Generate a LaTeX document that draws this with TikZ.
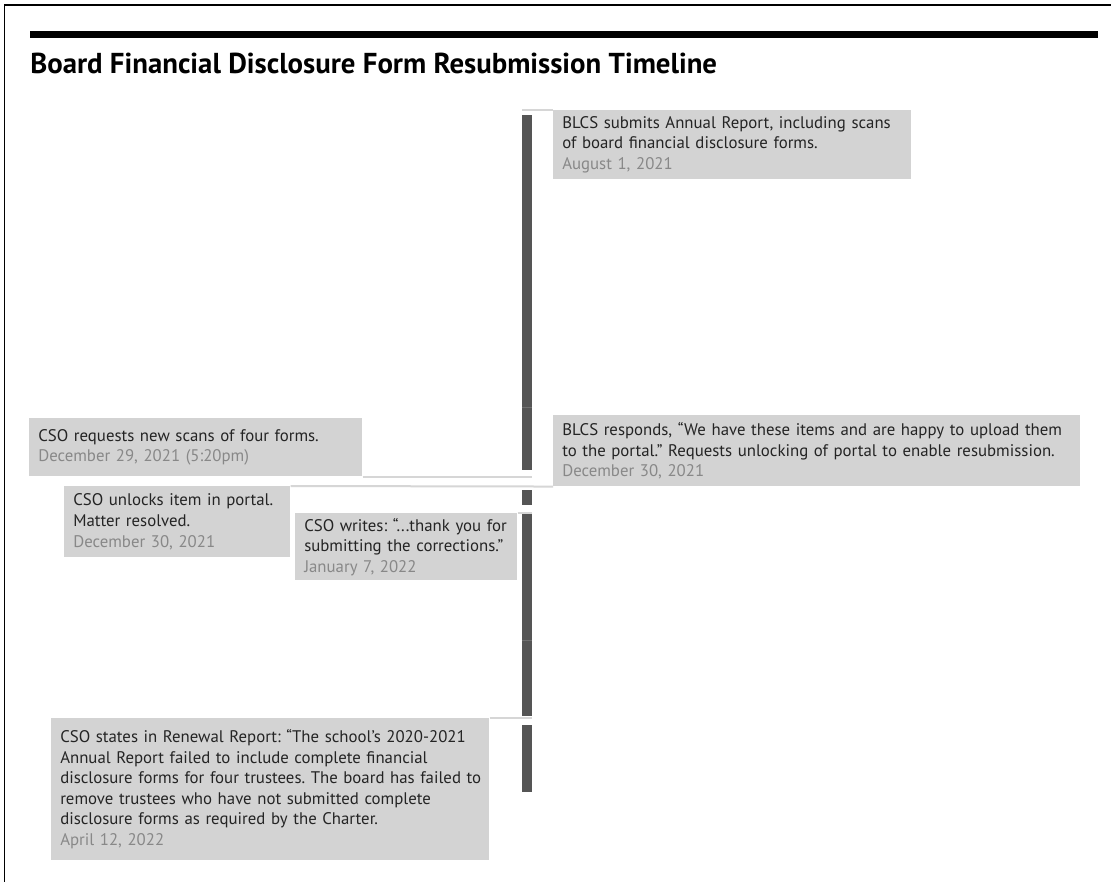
\documentclass[tikz,border=0pt]{standalone}
\usepackage{fontspec}
\setmainfont{PT Sans}
\begin{document}
\frenchspacing
\begin{tikzpicture}[x=0.75pt,y=-0.75pt]
% palette
\definecolor{boxfill}{RGB}{211,211,211}
\definecolor{bodytext}{RGB}{36,36,36}
\definecolor{datetext}{RGB}{136,136,136}
\definecolor{barcol}{RGB}{85,85,85}
\definecolor{seamcol}{RGB}{112,112,112}
\definecolor{linkcol}{RGB}{214,214,214}
\tikzset{
  evbox/.style={fill=boxfill, anchor=north west, inner xsep=6.75pt, inner ysep=0pt,
    align=left, text=bodytext, font=\fontsize{12.6}{15.4}\selectfont},
  link/.style={draw=linkcol, line width=1.5pt},
  barseg/.style={fill=barcol},
}
\newcommand{\evdate}[1]{{\color{datetext}#1}}

\useasboundingbox (0,0) rectangle (1111,882);
\fill[white] (0,0) rectangle (1111,882);

% frame and header
\draw[line width=1.2pt] (4.5,882) -- (4.5,5) -- (1111,5);
\fill (30,31) rectangle (1098,38);
\node[anchor=base west, inner sep=0pt, font=\bfseries\fontsize{21.6}{24}\selectfont] (title) at (30,73)
  {Board Financial Disclosure Form Resubmission Timeline};

% timeline bar
\fill[barseg] (522,115) rectangle (532,470);
\fill[barseg] (522,490) rectangle (532,505);
\fill[barseg] (522,514) rectangle (532,716);
\fill[barseg] (522,725) rectangle (532,792);
\draw[seamcol, line width=0.6pt] (522,407) -- (532,407);
\draw[seamcol, line width=0.6pt] (522,640) -- (532,640);

% events (each printed line kept in one piece)
\node[evbox, text width=255pt, minimum height=51.75pt] (b1) at (553,110)
  {\mbox{BLCS submits Annual Report, including scans}\\of board financial disclosure forms.\\\evdate{August 1, 2021}};
\node[evbox, text width=236.25pt, minimum height=43.5pt] (b2) at (29,418)
  {CSO requests new scans of four forms.\\\evdate{December 29, 2021 (5:20pm)}};
\node[evbox, text width=381.75pt, minimum height=53.25pt] (b3) at (553,415)
  {\mbox{BLCS responds, “We have these items and are happy to upload them}\\\mbox{to the portal.” Requests unlocking of portal to enable resubmission.}\\\evdate{December 30, 2021}};
\node[evbox, text width=156pt, minimum height=53.25pt] (b4) at (64,486)
  {CSO unlocks item in portal.\\Matter resolved.\\\evdate{December 30, 2021}};
\node[evbox, text width=153pt, minimum height=50.25pt] (b5) at (295,513)
  {\mbox{CSO writes: “...thank you for}\\\mbox{submitting the corrections.”}\\\evdate{January 7, 2022}};
\node[evbox, text width=315pt, minimum height=106.5pt] (b6) at (51,718)
  {\mbox{CSO states in Renewal Report: “The school’s 2020-2021}\\\mbox{Annual Report failed to include complete financial}\\\mbox{disclosure forms for four trustees. The board has failed to}\\\mbox{remove trustees who have not submitted complete}\\\mbox{disclosure forms as required by the Charter.}\\\evdate{April 12, 2022}};

% connector ends on the bar edges, level with each box edge
\coordinate (barL) at (522,0);
\coordinate (barR) at (532,0);
\coordinate (c1) at (b1.north west -| barL);
\coordinate (c2) at (b2.south east -| barR);
\coordinate (c5) at (b5.north east -| barR);
\coordinate (c6) at (b6.north east -| barR);

% connectors
\draw[link] (c1) -- (b1.north west);
\draw[link] (b2.south east) -- (c2);
\draw[link] (b4.north east) -- (b3.south west);
\draw[link] (b5.north east) -- (c5);
\draw[link] (b6.north east) -- (c6);
\end{tikzpicture}
\end{document}
